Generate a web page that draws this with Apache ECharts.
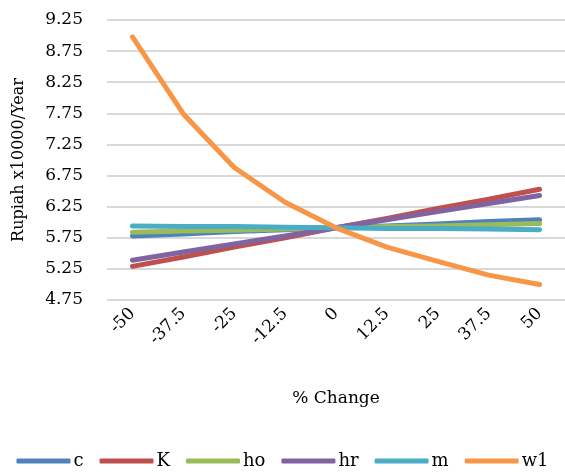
<!DOCTYPE html>
<html>
<head>
<meta charset="utf-8">
<script src="https://cdn.jsdelivr.net/npm/echarts@6/dist/echarts.min.js"></script>
<style>
  html, body { margin: 0; padding: 0; background: #fff; }
  #chart { width: 565px; height: 475px; }
</style>
</head>
<body>
<div id="chart"></div>
<script>
// % change categories
const categories = ['-50', '-37.5', '-25', '-12.5', '0', '12.5', '25', '37.5', '50'];

// values in Rupiah x10000/Year
const cValues  = [5.78, 5.81, 5.85, 5.88, 5.91, 5.94, 5.97, 6.01, 6.04];
const kValues  = [5.29, 5.44, 5.60, 5.75, 5.91, 6.06, 6.22, 6.37, 6.53];
const hoValues = [5.84, 5.86, 5.87, 5.89, 5.91, 5.93, 5.94, 5.96, 5.98];
const hrValues = [5.39, 5.52, 5.65, 5.78, 5.91, 6.04, 6.17, 6.30, 6.43];
const mValues  = [5.94, 5.93, 5.93, 5.92, 5.91, 5.90, 5.90, 5.89, 5.88];
const w1Values = [8.98, 7.74, 6.88, 6.32, 5.91, 5.60, 5.37, 5.15, 5.00];

const seriesNames = ['c', 'K', 'ho', 'hr', 'm', 'w1'];
const seriesData = [cValues, kValues, hoValues, hrValues, mValues, w1Values];
const colors = ['#4F81BD', '#C0504D', '#9BBB59', '#8064A2', '#4BACC6', '#F79646'];

const font = '"DejaVu Serif", serif';

const chart = echarts.init(document.getElementById('chart'));
const options = {
  animation: false,
  color: colors,
  textStyle: { fontFamily: font },
  grid: { left: 107, top: 20, width: 461, height: 280 },
  legend: {
    bottom: 0,
    left: 'center',
    icon: 'roundRect',
    itemWidth: 54,
    itemHeight: 5,
    itemGap: 16,
    textStyle: { fontFamily: font, fontSize: 18, color: '#000', padding: [0, 0, 0, -2] },
    data: seriesNames
  },
  xAxis: {
    type: 'category',
    data: categories,
    name: '% Change',
    nameLocation: 'middle',
    nameGap: 90,
    nameTextStyle: { fontFamily: font, fontSize: 17, color: '#000' },
    axisLine: { show: false },
    axisTick: { show: false },
    axisLabel: { rotate: 45, margin: 11, fontFamily: font, fontSize: 17, color: '#000' }
  },
  yAxis: {
    type: 'value',
    min: 4.75,
    max: 9.25,
    interval: 0.5,
    name: 'Rupiah x10000/Year',
    nameLocation: 'middle',
    nameGap: 80,
    nameTextStyle: { fontFamily: font, fontSize: 16, color: '#000' },
    axisLine: { show: false },
    axisTick: { show: false },
    axisLabel: {
      margin: 24, fontFamily: font, fontSize: 17, color: '#000',
      formatter: v => v.toFixed(2)
    },
    splitLine: { lineStyle: { color: '#d9d9d9', width: 2 } }
  },
  series: seriesNames.map((name, i) => ({
    name: name,
    type: 'line',
    data: seriesData[i],
    showSymbol: false,
    symbol: 'none',
    lineStyle: { width: 5, cap: 'round', join: 'round' }
  }))
};
chart.setOption(options);
</script>
</body>
</html>
